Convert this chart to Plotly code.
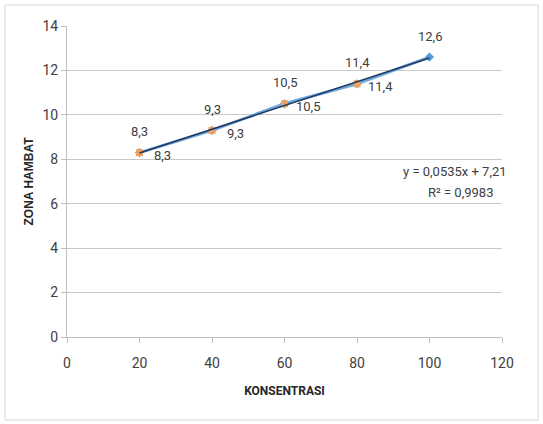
import plotly.graph_objects as go

konsentrasi = [20, 40, 60, 80, 100]
zona = [8.3, 9.3, 10.5, 11.4, 12.6]
label_above = ["8,3", "9,3", "10,5", "11,4", "12,6"]
label_right = ["8,3", "9,3", "10,5", "11,4", ""]
slope, intercept = 0.0535, 7.21
trend_y = [slope * x + intercept for x in konsentrasi]
eq_lines = ["y = 0,0535x + 7,21", "R² = 0,9983"]

FONT = "Roboto, Liberation Sans, sans-serif"
TXT = "#404040"

fig = go.Figure()
# blue series
fig.add_trace(go.Scatter(
    x=konsentrasi, y=zona, mode="lines+markers",
    line=dict(color="#6FA8DC", width=3),
    marker=dict(symbol="diamond", size=7, color="#5B9BD5"),
    showlegend=False))
# orange series (points 20-80 visible as squares)
fig.add_trace(go.Scatter(
    x=konsentrasi[:-1], y=zona[:-1], mode="markers",
    marker=dict(symbol="square", size=7, color="#F0A060"),
    showlegend=False))
# trendline
fig.add_trace(go.Scatter(
    x=konsentrasi, y=trend_y, mode="lines",
    line=dict(color="#1F3A5F", width=1.6),
    showlegend=False, hoverinfo="skip"))

for xv, yv, t in zip(konsentrasi, zona, label_above):
    fig.add_annotation(x=xv, y=yv, text=t, showarrow=False,
                       xanchor="center", yanchor="middle", yshift=21,
                       font=dict(family=FONT, size=13, color=TXT))
for xv, yv, t in zip(konsentrasi, zona, label_right):
    if t:
        fig.add_annotation(x=xv, y=yv, text=t, showarrow=False,
                           xanchor="center", yanchor="middle", xshift=23, yshift=-3,
                           font=dict(family=FONT, size=13, color=TXT))

fig.add_annotation(x=107, y=7.43, text=eq_lines[0], showarrow=False,
                   xanchor="center", yanchor="middle",
                   font=dict(family=FONT, size=13, color=TXT))
fig.add_annotation(x=108.5, y=6.49, text=eq_lines[1], showarrow=False,
                   xanchor="center", yanchor="middle",
                   font=dict(family=FONT, size=13, color=TXT))

# outer chart border
fig.add_shape(type="rect", xref="paper", yref="paper",
              x0=-0.1425, x1=1.083, y0=-0.267, y1=1.0675,
              line=dict(color="#D8D8D8", width=1), fillcolor="rgba(0,0,0,0)")

fig.update_layout(
    width=543, height=424,
    margin=dict(l=67, r=41, t=26, b=87),
    paper_bgcolor="white", plot_bgcolor="white",
    font=dict(family=FONT, size=13, color=TXT),
    xaxis=dict(range=[0, 120], tickvals=[0, 20, 40, 60, 80, 100, 120],
               showgrid=False, zeroline=False, showline=True,
               linecolor="#BFBFBF", linewidth=1,
               ticks="outside", ticklen=5, tickcolor="#BFBFBF",
               ticklabelstandoff=8,
               tickfont=dict(family=FONT, size=14, color=TXT),
               title=dict(text="<b>KONSENTRASI</b>",
                          font=dict(family=FONT, size=12, color="#262626"),
                          standoff=16)),
    yaxis=dict(range=[0, 14], tickvals=[0, 2, 4, 6, 8, 10, 12, 14],
               showgrid=True, gridcolor="#C8C8C8", gridwidth=1,
               zeroline=False, showline=True,
               linecolor="#BFBFBF", linewidth=1,
               ticks="outside", ticklen=5, tickcolor="#BFBFBF",
               tickfont=dict(family=FONT, size=14, color=TXT),
               title=dict(text="<b>ZONA HAMBAT</b>",
                          font=dict(family="Liberation Sans, Arial, sans-serif", size=12, color="#262626"),
                          standoff=6)),
)

fig.write_html("out.html")
